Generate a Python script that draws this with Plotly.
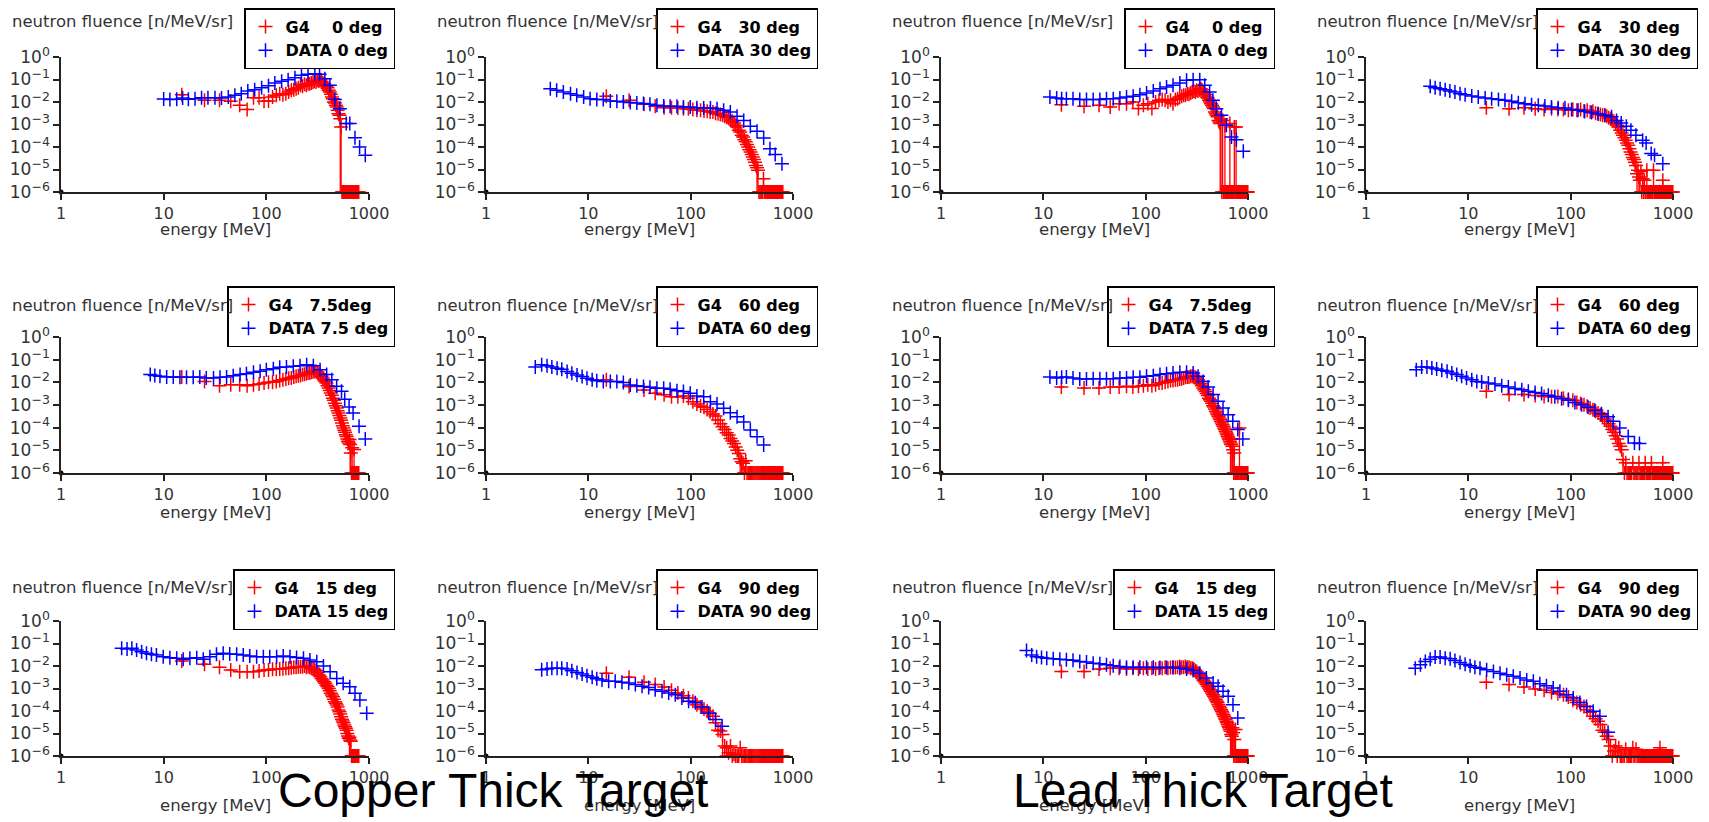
import plotly.graph_objects as go

# target page is 1709x822; the html body keeps its default 8px margin,
# so the figure is drawn 8px smaller and every pixel position is shifted by it
PAGE_W, PAGE_H = 1709, 822
OFF = 8
W, H = PAGE_W - OFF, PAGE_H - OFF
Y_FLOOR = 1e-6


def px_x(x):
    return (x - OFF) / W


def px_y(y):
    return 1 - (y - OFF) / H


# energy ticks / fluence ticks
e_ticks = [1, 10, 100, 1000]
e_tick_text = ["1", "10", "100", "1000"]
f_ticks = [1e-6, 1e-5, 1e-4, 1e-3, 1e-2, 1e-1, 1]
f_exponents = ["\u22126", "\u22125", "\u22124", "\u22123", "\u22122", "\u22121", "0"]
f_tick_text = ["10<sup><span style='font-size:12.5px'>%s</span></sup>" % s for s in f_exponents]

# G4 energy bins (MeV)
cu_g4_energy = [15, 25, 35, 45, 55, 65, 75, 85, 95, 105,
                115, 125, 135, 145, 155, 165, 175, 185, 195, 205,
                215, 225, 235, 245, 255, 265, 275, 285, 295, 305,
                315, 325, 335, 345, 355, 365, 375, 385, 395, 405,
                415, 425, 435, 445, 455, 465, 475, 485, 495, 505,
                515, 525, 535, 545, 555, 565, 575, 585, 595, 605,
                615, 625, 635, 645, 655, 665, 675, 685, 695, 705,
                715, 725, 735, 745, 755, 765, 775, 785, 795]
pb_g4_energy = [15, 25, 35, 45, 55, 65, 75, 85, 95, 105,
                115, 125, 135, 145, 155, 165, 175, 185, 195, 205,
                215, 225, 235, 245, 255, 265, 275, 285, 295, 305,
                315, 325, 335, 345, 355, 365, 375, 385, 395, 405,
                415, 425, 435, 445, 455, 465, 475, 485, 495, 505,
                515, 525, 535, 545, 555, 565, 575, 585, 595, 605,
                615, 625, 635, 645, 655, 665, 675, 685, 695, 705,
                715, 725, 735, 745, 755, 765, 775, 785, 795, 805,
                815, 825, 835, 845, 855, 865, 875, 885, 895, 905,
                915, 925, 935, 945, 955, 965, 975, 985, 995]

# ---------------- Copper ----------------
cu0_g4 = [2.1e-2, 1.2e-2, 1.2e-2, 1.07e-2, 7.1e-3, 4.7e-3, 1.56e-2, 1.56e-2, 1.07e-2, 1.1e-2,
          1.67e-2, 1.98e-2, 2.35e-2, 2.1e-2, 2.35e-2, 2.8e-2, 3.3e-2, 3.5e-2, 3.9e-2, 4.3e-2,
          5.5e-2, 5e-2, 6.1e-2, 5.5e-2, 6.5e-2, 6.5e-2, 7e-2, 7.7e-2, 8.3e-2, 7.7e-2,
          9.2e-2, 8.6e-2, 9.8e-2, 7.7e-2, 7e-2, 6.5e-2, 5.5e-2, 5e-2, 4.3e-2, 3.3e-2,
          2.8e-2, 2.2e-2, 1.67e-2, 1.4e-2, 1e-2, 9e-3, 7.1e-3, 6e-3, 4.3e-3, 3e-3,
          2.6e-3, 1.8e-3, 7.8e-4, 0, 0, 0, 0, 0, 0, 0,
          0, 0, 0, 0, 0, 0, 0, 0, 0, 0,
          0, 0, 0, 0, 0, 0, 0, 0, 0]
cu0_g4_err = [525, 535]
cu0_data_energy = [10, 11.5, 13.4, 15.3, 17.4, 20.2, 23.4, 27, 31.6, 36.6,
                   42.6, 49.4, 57, 66, 77, 90, 105, 121, 141, 163,
                   190, 220, 255, 297, 330, 372, 416, 465, 520, 600,
                   650, 730, 810, 920]
cu0_data = [1.36e-2, 1.3e-2, 1.33e-2, 1.5e-2, 1.33e-2, 1.4e-2, 1.56e-2, 1.56e-2, 1.56e-2, 1.5e-2,
            1.67e-2, 1.98e-2, 2.35e-2, 3.1e-2, 3.5e-2, 4.3e-2, 5.3e-2, 7e-2, 8.3e-2, 9.8e-2,
            0.12, 0.153, 0.17, 0.18, 0.17, 0.109, 5.5e-2, 1.3e-2, 5e-3, 1.1e-3,
            1.1e-3, 2.6e-4, 1e-4, 4.3e-5]

cu30_g4 = [1.8e-2, 1.2e-2, 7.9e-3, 6.4e-3, 5.6e-3, 5.6e-3, 5.4e-3, 5e-3, 5e-3, 4.6e-3,
           4.3e-3, 4.3e-3, 4e-3, 3.9e-3, 3.6e-3, 3.6e-3, 3.2e-3, 3e-3, 2.8e-3, 2.6e-3,
           2.3e-3, 2.1e-3, 2e-3, 1.6e-3, 1.4e-3, 1.17e-3, 9.2e-4, 7.8e-4, 5.5e-4, 4.6e-4,
           3.3e-4, 2.8e-4, 2.1e-4, 1.7e-4, 1.3e-4, 1e-4, 7.6e-5, 6e-5, 4.7e-5, 3.6e-5,
           2.8e-5, 2.1e-5, 1.5e-5, 1.2e-5, 9.2e-6, 0, 0, 0, 0, 0,
           3.9e-6, 0, 0, 0, 0, 0, 0, 0, 0, 0,
           0, 0, 0, 0, 0, 0, 0, 0, 0, 0,
           0, 0, 0, 0, 0, 0, 0, 0, 0]
cu30_g4_err = [445, 455, 515]
cu30_data_energy = [4.25, 4.9, 5.7, 6.7, 7.7, 9, 10.4, 12.1, 14, 16.4,
                    19, 22, 25.7, 29.8, 34.6, 40, 46.8, 54.5, 63, 73.5,
                    85, 99, 115, 134, 156, 181, 210, 244, 284, 330,
                    383, 445, 517, 595, 670, 780]
cu30_data = [3.9e-2, 3.3e-2, 2.8e-2, 2.35e-2, 1.98e-2, 1.67e-2, 1.4e-2, 1.3e-2, 1.3e-2, 1.1e-2,
             1.07e-2, 1e-2, 9.4e-3, 9e-3, 8.5e-3, 7.9e-3, 7.1e-3, 6.6e-3, 6.4e-3, 6.4e-3,
             6e-3, 6e-3, 5.6e-3, 5.4e-3, 5.4e-3, 5e-3, 4.3e-3, 3.6e-3, 2.3e-3, 1.5e-3,
             8.3e-4, 5e-4, 2.5e-4, 8.4e-5, 4.7e-5, 1.8e-5]

cu75_g4 = [1.7e-2, 1.1e-2, 7.1e-3, 7.9e-3, 7.9e-3, 7.1e-3, 7.9e-3, 8.5e-3, 9.4e-3, 1e-2,
           1e-2, 1.1e-2, 1.2e-2, 1.3e-2, 1.4e-2, 1.5e-2, 1.55e-2, 1.7e-2, 1.84e-2, 1.97e-2,
           2e-2, 2.2e-2, 2.25e-2, 2.4e-2, 2.6e-2, 2.6e-2, 2.8e-2, 2.9e-2, 3e-2, 3.1e-2,
           2.8e-2, 2.4e-2, 2.2e-2, 1.84e-2, 1.55e-2, 1.3e-2, 1.1e-2, 9.4e-3, 7.1e-3, 5.6e-3,
           4.4e-3, 3.4e-3, 2.7e-3, 2e-3, 1.6e-3, 1.2e-3, 9.3e-4, 7.4e-4, 5.6e-4, 4.4e-4,
           3.4e-4, 2.7e-4, 2.1e-4, 1.6e-4, 1.2e-4, 9.7e-5, 7.6e-5, 6.2e-5, 4.9e-5, 4.1e-5,
           3.2e-5, 2.5e-5, 2.1e-5, 3e-5, 1.8e-5, 7.6e-6, 0, 1.3e-5, 0, 0,
           1.1e-5, 0, 0, 0, 0, 0, 0, 0, 0]
cu75_g4_err = [655, 665, 685, 715]
cu75_data_energy = [7.4, 8.2, 9.2, 10.7, 12.4, 14.4, 16.7, 19.4, 22.5, 26,
                    30.6, 35.4, 41, 47.6, 55.5, 64, 75, 87, 100, 117,
                    135, 157, 183, 213, 247, 287, 334, 387, 434, 484,
                    540, 580, 640, 700, 800, 920]
cu75_data = [2.2e-2, 2e-2, 1.84e-2, 1.7e-2, 1.7e-2, 1.66e-2, 1.66e-2, 1.66e-2, 1.7e-2, 1.55e-2,
             1.55e-2, 1.66e-2, 1.7e-2, 1.97e-2, 2.2e-2, 2.4e-2, 2.8e-2, 3.1e-2, 3.6e-2, 4e-2,
             4.6e-2, 4.7e-2, 5.1e-2, 5.4e-2, 6e-2, 5.4e-2, 3.6e-2, 2.2e-2, 1.3e-2, 6.7e-3,
             4e-3, 1.8e-3, 8.2e-4, 4.4e-4, 1.15e-4, 3.2e-5]

cu60_g4 = [1.3e-2, 6.5e-3, 4.6e-3, 3.3e-3, 2.8e-3, 2.3e-3, 2.3e-3, 2.5e-3, 2e-3, 1.4e-3,
           1.1e-3, 9e-4, 7.9e-4, 6.4e-4, 5.1e-4, 4e-4, 3.3e-4, 2.2e-4, 1.5e-4, 1.1e-4,
           8.4e-5, 6e-5, 4.7e-5, 3.3e-5, 2.6e-5, 2e-5, 1.4e-5, 1e-5, 7.2e-6, 4.3e-6,
           3.1e-6, 2.7e-6, 0, 3.5e-6, 0, 0, 0, 0, 0, 0,
           0, 0, 0, 0, 0, 0, 0, 0, 0, 0,
           0, 0, 0, 0, 0, 0, 0, 0, 0, 0,
           0, 0, 0, 0, 0, 0, 0, 0, 0, 0,
           0, 0, 0, 0, 0, 0, 0, 0, 0]
cu60_g4_err = [305, 315, 325, 345]
cu60_data_energy = [3.03, 3.5, 3.95, 4.4, 4.95, 5.5, 6.2, 6.9, 7.75, 8.7,
                    9.7, 10.9, 12.1, 14, 16.4, 19, 22, 25.7, 29.8, 34.6,
                    40, 46.8, 54.5, 63, 73.5, 85, 99, 115, 134, 156,
                    181, 210, 244, 284, 330, 383, 445, 517]
cu60_data = [4.7e-2, 5.9e-2, 5.4e-2, 4.7e-2, 4.2e-2, 3.8e-2, 3e-2, 2.5e-2, 2.1e-2, 1.8e-2,
             1.5e-2, 1.3e-2, 1.16e-2, 1.08e-2, 1.08e-2, 1.08e-2, 9.8e-3, 7.7e-3, 7e-3, 6.5e-3,
             6.1e-3, 5.5e-3, 5.5e-3, 5e-3, 4.3e-3, 3.9e-3, 3.3e-3, 2.5e-3, 2.3e-3, 1.4e-3,
             1.1e-3, 7.1e-4, 4.6e-4, 3e-4, 1.8e-4, 7.8e-5, 4e-5, 1.7e-5]

cu15_g4 = [1.67e-2, 1.2e-2, 8.7e-3, 6.6e-3, 5.6e-3, 5.6e-3, 5.6e-3, 6e-3, 6.6e-3, 6.6e-3,
           7.1e-3, 7.1e-3, 7.4e-3, 7.6e-3, 7.9e-3, 7.9e-3, 8.4e-3, 8.7e-3, 8.7e-3, 9.3e-3,
           9.3e-3, 9.3e-3, 1e-2, 8.7e-3, 9.3e-3, 8.7e-3, 7.9e-3, 7.9e-3, 7.1e-3, 6.2e-3,
           5.1e-3, 4e-3, 3.4e-3, 2.8e-3, 2.4e-3, 2e-3, 1.7e-3, 1.4e-3, 1.2e-3, 1e-3,
           8e-4, 6.1e-4, 5.1e-4, 4.3e-4, 3.3e-4, 2.6e-4, 2.2e-4, 1.85e-4, 1.5e-4, 1.1e-4,
           9.3e-5, 7.4e-5, 5.6e-5, 4.3e-5, 3.6e-5, 3e-5, 2.4e-5, 2e-5, 1.7e-5, 1.4e-5,
           1e-5, 7.7e-6, 6.1e-6, 6.9e-6, 5.1e-6, 4.5e-6, 0, 0, 0, 0,
           0, 0, 0, 0, 0, 0, 0, 0, 0]
cu15_g4_err = [645, 655, 665]
cu15_data_energy = [3.9, 4.4, 4.9, 5.45, 6.1, 6.8, 7.6, 8.5, 9.9, 11.5,
                    13.4, 15.5, 18, 21, 24.3, 28.2, 32.7, 38, 44, 51.4,
                    59.6, 69, 80.5, 93.5, 108, 126, 146, 170, 197, 230,
                    266, 310, 360, 418, 485, 560, 650, 730, 815, 950]
cu15_data = [6.1e-2, 5.7e-2, 6.1e-2, 5.1e-2, 4.3e-2, 3.7e-2, 3.3e-2, 3.1e-2, 2.6e-2, 2.35e-2,
             2.2e-2, 2e-2, 2.2e-2, 2.35e-2, 2e-2, 2.6e-2, 3.3e-2, 3.7e-2, 3.4e-2, 3.3e-2,
             3.1e-2, 2.8e-2, 2.6e-2, 2.6e-2, 2.6e-2, 2.6e-2, 2.8e-2, 2.6e-2, 2.4e-2, 2.2e-2,
             1.85e-2, 1.56e-2, 1e-2, 5.6e-3, 2.8e-3, 1.7e-3, 1.2e-3, 6.1e-4, 3.1e-4, 7.9e-5]

cu90_g4 = [4.8e-3, 3.2e-3, 1.9e-3, 1.5e-3, 1.16e-3, 8.3e-4, 6.3e-4, 4.8e-4, 3.8e-4, 2.7e-4,
           1.9e-4, 1.5e-4, 1.23e-4, 9.7e-5, 7.7e-5, 5.8e-5, 3e-5, 1.4e-5, 1.3e-5, 9e-6,
           2.8e-6, 2.3e-6, 1.4e-6, 2.8e-6, 0, 1.2e-6, 0, 0, 0, 2.3e-6,
           0, 0, 0, 0, 0, 0, 0, 0, 0, 0,
           0, 0, 0, 0, 0, 0, 0, 0, 0, 0,
           0, 0, 0, 0, 0, 0, 0, 0, 0, 0,
           0, 0, 0, 0, 0, 0, 0, 0, 0, 0,
           0, 0, 0, 0, 0, 0, 0, 0, 0]
cu90_g4_err = [205, 215, 225, 245]
cu90_data_energy = [3.5, 3.95, 4.4, 4.95, 5.5, 6.2, 6.9, 7.75, 8.7, 9.7,
                    10.9, 12.1, 13.6, 15.8, 18.3, 21.3, 24.8, 28.8, 33.5, 38.9,
                    45, 52.5, 61, 70.8, 82, 95.5, 111, 129, 150, 175,
                    203]
cu90_data = [6.8e-3, 7.3e-3, 8e-3, 8e-3, 8e-3, 7.3e-3, 6.1e-3, 5.2e-3, 4.4e-3, 3.7e-3,
             3.2e-3, 2.7e-3, 2.4e-3, 2.1e-3, 2.1e-3, 1.9e-3, 1.75e-3, 1.5e-3, 1.25e-3, 1.1e-3,
             8.8e-4, 7.5e-4, 6.3e-4, 5.3e-4, 3.8e-4, 2.7e-4, 2.3e-4, 1.5e-4, 8.2e-5, 4.2e-5,
             2.1e-5]

# ---------------- Lead ----------------
pb0_g4 = [7.6e-3, 6.4e-3, 7.1e-3, 6e-3, 8.4e-3, 8.4e-3, 1e-2, 5.1e-3, 7.1e-3, 8.4e-3,
          5.1e-3, 1e-2, 1.2e-2, 1.3e-2, 1.2e-2, 1e-2, 1.2e-2, 8.4e-3, 1.3e-2, 1.4e-2,
          1.67e-2, 1.8e-2, 1.98e-2, 1.98e-2, 2.35e-2, 2.2e-2, 2.5e-2, 2.8e-2, 3.1e-2, 2.8e-2,
          3.3e-2, 3.1e-2, 3.5e-2, 3.9e-2, 3.5e-2, 2.8e-2, 2.5e-2, 2.1e-2, 1.67e-2, 1.5e-2,
          1.2e-2, 1e-2, 8.4e-3, 7.1e-3, 6e-3, 5.1e-3, 3.6e-3, 3e-3, 2.6e-3, 2.2e-3,
          1.5e-3, 1.3e-3, 1.1e-3, 1.8e-3, 0, 1.5e-3, 0, 0, 9.2e-4, 0,
          0, 0, 0, 0, 0, 1.1e-3, 0, 0, 0, 0,
          0, 0, 7.7e-4, 0, 0, 7.7e-4, 0, 0, 0, 0,
          0, 0, 0, 0, 0, 0, 0, 0, 0, 0,
          0, 0, 0, 0, 0, 0, 0, 0, 0]
pb0_g4_err = [535, 545, 565, 595, 665, 735, 765]
pb0_data_energy = [11.6, 13.5, 15.1, 16.8, 19.5, 22.7, 26.4, 30.7, 35.7, 41.4,
                   48.2, 56, 65, 75.5, 87.8, 102, 118.7, 138, 160, 185,
                   216, 251, 291, 338, 378, 422, 454, 490, 550, 615,
                   690, 770, 900]
pb0_data = [1.67e-2, 1.5e-2, 1.4e-2, 1.4e-2, 1.4e-2, 1.3e-2, 1.3e-2, 1.3e-2, 1.3e-2, 1.4e-2,
            1.4e-2, 1.5e-2, 1.67e-2, 1.8e-2, 2.1e-2, 2.5e-2, 3.1e-2, 3.9e-2, 4.6e-2, 5.5e-2,
            7e-2, 9.2e-2, 9.8e-2, 9.8e-2, 5.5e-2, 2.8e-2, 1.2e-2, 5e-3, 2.6e-3, 9.2e-4,
            2.8e-4, 2.1e-4, 6.4e-5]

pb30_g4 = [5.6e-3, 5e-3, 5.6e-3, 5e-3, 4.6e-3, 5e-3, 4.6e-3, 4.7e-3, 4.3e-3, 4.6e-3,
           4.3e-3, 4.6e-3, 4e-3, 4.3e-3, 3.6e-3, 3.9e-3, 3.2e-3, 3e-3, 2.8e-3, 2.6e-3,
           2.6e-3, 2.3e-3, 2e-3, 1.8e-3, 1.5e-3, 1.4e-3, 1.17e-3, 9.2e-4, 7.8e-4, 5.5e-4,
           4.2e-4, 3.3e-4, 2.6e-4, 2e-4, 1.5e-4, 1.2e-4, 8.4e-5, 6e-5, 4.7e-5, 3.4e-5,
           2.8e-5, 2.1e-5, 1.5e-5, 6.5e-6, 9.2e-6, 4.6e-6, 3.3e-6, 8.1e-6, 0, 3.9e-6,
           0, 3.3e-6, 0, 0, 9.2e-6, 0, 0, 0, 0, 0,
           0, 0, 0, 9.2e-6, 0, 0, 0, 0, 0, 0,
           0, 0, 0, 0, 0, 0, 0, 0, 3.3e-6, 0,
           0, 0, 0, 0, 0, 0, 0, 0, 0, 0,
           0, 0, 0, 0, 0, 0, 0, 0, 0]
pb30_g4_err = [445, 465, 475, 505, 525, 555, 645, 795]
pb30_data_energy = [4.24, 4.74, 5.3, 5.94, 6.6, 7.4, 8.3, 9.3, 10.8, 12.5,
                    14.6, 16.9, 19.7, 22.8, 26.5, 30.8, 35.8, 41.5, 48.3, 56,
                    65, 75.6, 88, 102, 118, 137, 160, 185, 216, 251,
                    281, 312, 350, 388, 434, 505, 546, 612, 660, 795]
pb30_data = [5e-2, 4.3e-2, 3.9e-2, 3.5e-2, 3.1e-2, 2.8e-2, 2.35e-2, 2.1e-2, 1.85e-2, 1.67e-2,
             1.5e-2, 1.4e-2, 1.3e-2, 1.2e-2, 1.07e-2, 9.3e-3, 8.4e-3, 7.6e-3, 7.1e-3, 6.6e-3,
             6e-3, 5.6e-3, 5.4e-3, 4.7e-3, 4.3e-3, 3.8e-3, 3.4e-3, 3e-3, 2.6e-3, 2.2e-3,
             1.5e-3, 1.17e-3, 8.3e-4, 5.5e-4, 3.3e-4, 2e-4, 1.5e-4, 5.1e-5, 4.3e-5, 1.8e-5]

pb75_g4 = [6.2e-3, 5.6e-3, 5.6e-3, 6.2e-3, 6.2e-3, 6.7e-3, 6.2e-3, 6.7e-3, 7.1e-3, 7.9e-3,
           7.1e-3, 7.9e-3, 9.4e-3, 9.4e-3, 1e-2, 1.1e-2, 1.2e-2, 1.2e-2, 1.3e-2, 1.3e-2,
           1.4e-2, 1.45e-2, 1.55e-2, 1.66e-2, 1.7e-2, 1.7e-2, 1.84e-2, 1.84e-2, 1.7e-2, 1.66e-2,
           1.55e-2, 1.3e-2, 1.1e-2, 8.7e-3, 7.1e-3, 5.6e-3, 4.7e-3, 3.9e-3, 3.2e-3, 2.6e-3,
           2e-3, 1.7e-3, 1.45e-3, 1.2e-3, 9.3e-4, 8.2e-4, 6.7e-4, 5.3e-4, 4.4e-4, 3.7e-4,
           3.2e-4, 2.7e-4, 2.3e-4, 1.9e-4, 1.6e-4, 1.35e-4, 1.15e-4, 9.7e-5, 8.2e-5, 6.9e-5,
           5.8e-5, 4.9e-5, 4.1e-5, 3.5e-5, 3e-5, 2.5e-5, 2.1e-5, 1.8e-5, 3.2e-5, 1.5e-5,
           1.07e-5, 0, 7.6e-6, 0, 0, 0, 0, 0, 0, 0,
           0, 9.7e-5, 0, 0, 0, 0, 0, 0, 0, 0,
           0, 0, 0, 0, 0, 0, 0, 0, 0]
pb75_g4_err = [675, 695, 705, 715, 735, 825]
pb75_data_energy = [11.6, 13.5, 15.1, 16.8, 19.5, 22.7, 26.4, 30.7, 35.7, 41.4,
                    48.2, 56, 65, 75.5, 87.8, 102, 118.7, 138, 160, 185,
                    216, 251, 291, 325, 364, 408, 456, 510, 570, 640,
                    710, 795, 890]
pb75_data = [1.7e-2, 1.55e-2, 1.66e-2, 1.7e-2, 1.55e-2, 1.4e-2, 1.4e-2, 1.45e-2, 1.45e-2, 1.45e-2,
             1.45e-2, 1.55e-2, 1.55e-2, 1.66e-2, 1.66e-2, 1.84e-2, 1.97e-2, 2.2e-2, 2.4e-2, 2.6e-2,
             2.8e-2, 2.8e-2, 2.6e-2, 1.84e-2, 1.1e-2, 6.2e-3, 2.9e-3, 1.45e-3, 7.4e-4, 3.7e-4,
             1.9e-4, 8.2e-5, 3.2e-5]

pb60_g4 = [4e-3, 2.9e-3, 2.9e-3, 2.6e-3, 2.4e-3, 2.3e-3, 2.4e-3, 2e-3, 1.8e-3, 1.6e-3,
           1.3e-3, 1.15e-3, 1.03e-3, 8.7e-4, 7.4e-4, 6.2e-4, 5.3e-4, 4.4e-4, 3.7e-4, 3.2e-4,
           2.4e-4, 1.9e-4, 1.5e-4, 1.15e-4, 8.2e-5, 6.2e-5, 4.4e-5, 3.2e-5, 2e-5, 1.5e-5,
           1.07e-5, 3.9e-6, 0, 2.8e-6, 0, 0, 0, 0, 0, 2.8e-6,
           0, 0, 0, 0, 0, 2.8e-6, 0, 0, 0, 0,
           0, 0, 2.8e-6, 0, 0, 0, 0, 0, 0, 0,
           2.8e-6, 0, 0, 0, 0, 0, 0, 0, 0, 0,
           0, 0, 0, 0, 0, 0, 0, 0, 2.8e-6, 0,
           0, 0, 0, 0, 0, 0, 0, 0, 0, 0,
           0, 0, 0, 0, 0, 0, 0, 0, 0]
pb60_g4_err = [325, 345]
pb60_data_energy = [3.1, 3.5, 3.94, 4.4, 4.9, 5.5, 6.2, 6.9, 7.7, 8.6,
                    9.6, 10.8, 12.1, 13.5, 15.7, 18.2, 21.2, 24.6, 28.6, 33.3,
                    38.6, 44.9, 52, 60.5, 70, 81.5, 95, 110, 128, 148,
                    172, 200, 232, 260, 302, 365, 420, 470]
pb60_data = [3.6e-2, 4.7e-2, 4.7e-2, 4.3e-2, 3.9e-2, 3.4e-2, 3.1e-2, 2.6e-2, 2.2e-2, 1.84e-2,
             1.55e-2, 1.3e-2, 1.1e-2, 1.03e-2, 9.4e-3, 8.4e-3, 7.1e-3, 6.2e-3, 5.3e-3, 4.7e-3,
             4e-3, 3.6e-3, 3.2e-3, 2.7e-3, 2.3e-3, 1.9e-3, 1.6e-3, 1.3e-3, 1.03e-3, 7.9e-4,
             5.8e-4, 4.1e-4, 3e-4, 1.9e-4, 9.7e-5, 4.1e-5, 2.1e-5, 2e-5]

pb15_g4 = [5.7e-3, 5.7e-3, 7.3e-3, 8e-3, 8e-3, 7.3e-3, 8e-3, 7.3e-3, 8e-3, 7.3e-3,
           8e-3, 7.3e-3, 8e-3, 8e-3, 8.9e-3, 8e-3, 8.6e-3, 8.9e-3, 8.6e-3, 8.9e-3,
           9.5e-3, 8.9e-3, 8.9e-3, 9.5e-3, 8.9e-3, 8.9e-3, 8e-3, 8e-3, 7.3e-3, 6.3e-3,
           5.7e-3, 4.8e-3, 4.1e-3, 3.5e-3, 2.9e-3, 2.4e-3, 2.1e-3, 1.75e-3, 1.5e-3, 1.25e-3,
           1.05e-3, 8.8e-4, 7.5e-4, 6.3e-4, 5.3e-4, 4.5e-4, 3.8e-4, 3.2e-4, 2.7e-4, 2.3e-4,
           1.9e-4, 1.6e-4, 1.37e-4, 1.15e-4, 9.7e-5, 8.2e-5, 6.9e-5, 5.8e-5, 4.9e-5, 4.2e-5,
           3.5e-5, 3e-5, 2.5e-5, 2.1e-5, 1.8e-5, 1.5e-5, 1.27e-5, 9e-6, 7.6e-6, 1.8e-5,
           1.07e-5, 0, 5.4e-6, 0, 1.5e-5, 0, 0, 0, 0, 0,
           0, 0, 0, 0, 0, 0, 0, 0, 0, 0,
           0, 0, 0, 0, 0, 0, 0, 0, 0]
pb15_g4_err = [675, 685, 695, 705, 715, 735, 755]
pb15_data_energy = [6.85, 7.7, 8.6, 9.6, 10.8, 12.5, 14.5, 16.8, 19.5, 22.7,
                    26.4, 30.7, 35.7, 41.4, 48.2, 56, 65, 75.5, 87.8, 102,
                    118.7, 138, 160, 185, 216, 251, 291, 338, 392, 456,
                    510, 570, 640, 713, 795]
pb15_data = [4.9e-2, 3.1e-2, 2.6e-2, 2.4e-2, 2.2e-2, 2.1e-2, 2e-2, 1.9e-2, 1.8e-2, 1.6e-2,
             1.5e-2, 1.34e-2, 1.25e-2, 1.13e-2, 1.03e-2, 9.5e-3, 8.9e-3, 8.9e-3, 8.9e-3, 8.9e-3,
             8.9e-3, 8.6e-3, 8.6e-3, 8.6e-3, 8e-3, 7.3e-3, 6.3e-3, 4.8e-3, 2.9e-3, 1.75e-3,
             1.25e-3, 7.5e-4, 4.5e-4, 1.9e-4, 4.9e-5]

pb90_g4 = [1.9e-3, 1.5e-3, 1.16e-3, 9.5e-4, 8.3e-4, 6.7e-4, 5.9e-4, 5.3e-4, 4.2e-4, 3e-4,
           2.4e-4, 1.9e-4, 1.6e-4, 1.15e-4, 8.8e-5, 5.8e-5, 4.5e-5, 3.5e-5, 2.5e-5, 1.4e-5,
           1.15e-5, 7.6e-6, 5.4e-6, 2.8e-6, 0, 1.65e-6, 2.8e-6, 0, 2.3e-6, 0,
           0, 0, 0, 2e-6, 0, 0, 0, 0, 0, 2.3e-6,
           0, 0, 2e-6, 0, 0, 0, 0, 0, 0, 0,
           0, 0, 0, 0, 0, 0, 0, 0, 0, 0,
           0, 0, 0, 0, 0, 0, 0, 0, 0, 0,
           0, 0, 0, 2.3e-6, 0, 0, 0, 0, 0, 0,
           0, 0, 0, 0, 0, 0, 0, 0, 0, 0,
           0, 0, 0, 0, 0, 0, 0, 0, 0]
pb90_g4_err = [235, 245, 265, 275]
pb90_data_energy = [3.03, 3.4, 3.8, 4.24, 4.74, 5.3, 5.94, 6.64, 7.4, 8.3,
                    9.3, 10.4, 11.6, 13, 15.1, 17.6, 20.4, 23.7, 27.5, 32,
                    37.2, 43.2, 50, 58, 67.5, 78.5, 91, 106, 123, 143,
                    166, 193, 232]
pb90_data = [8e-3, 1.13e-2, 1.6e-2, 2e-2, 2.5e-2, 2.5e-2, 2.2e-2, 2.1e-2, 1.76e-2, 1.43e-2,
             1.2e-2, 1.02e-2, 8.9e-3, 8e-3, 6.8e-3, 5.7e-3, 4.8e-3, 4.1e-3, 3.5e-3, 2.9e-3,
             2.4e-3, 2.1e-3, 1.63e-3, 1.33e-3, 1.05e-3, 7.5e-4, 5.3e-4, 3.8e-4, 2.4e-4, 1.6e-4,
             9.7e-5, 5.8e-5, 1.15e-5]

# panels in reading order (row by row)
panels = [
    ("G4\u00a0\u00a0\u00a0\u00a00 deg", "DATA 0 deg", cu_g4_energy, cu0_g4, cu0_g4_err, cu0_data_energy, cu0_data),
    ("G4\u00a0\u00a0\u00a030 deg", "DATA 30 deg", cu_g4_energy, cu30_g4, cu30_g4_err, cu30_data_energy, cu30_data),
    ("G4\u00a0\u00a0\u00a0\u00a00 deg", "DATA 0 deg", pb_g4_energy, pb0_g4, pb0_g4_err, pb0_data_energy, pb0_data),
    ("G4\u00a0\u00a0\u00a030 deg", "DATA 30 deg", pb_g4_energy, pb30_g4, pb30_g4_err, pb30_data_energy, pb30_data),
    ("G4\u00a0\u00a0\u00a07.5deg", "DATA 7.5 deg", cu_g4_energy, cu75_g4, cu75_g4_err, cu75_data_energy, cu75_data),
    ("G4\u00a0\u00a0\u00a060 deg", "DATA 60 deg", cu_g4_energy, cu60_g4, cu60_g4_err, cu60_data_energy, cu60_data),
    ("G4\u00a0\u00a0\u00a07.5deg", "DATA 7.5 deg", pb_g4_energy, pb75_g4, pb75_g4_err, pb75_data_energy, pb75_data),
    ("G4\u00a0\u00a0\u00a060 deg", "DATA 60 deg", pb_g4_energy, pb60_g4, pb60_g4_err, pb60_data_energy, pb60_data),
    ("G4\u00a0\u00a0\u00a015 deg", "DATA 15 deg", cu_g4_energy, cu15_g4, cu15_g4_err, cu15_data_energy, cu15_data),
    ("G4\u00a0\u00a0\u00a090 deg", "DATA 90 deg", cu_g4_energy, cu90_g4, cu90_g4_err, cu90_data_energy, cu90_data),
    ("G4\u00a0\u00a0\u00a015 deg", "DATA 15 deg", pb_g4_energy, pb15_g4, pb15_g4_err, pb15_data_energy, pb15_data),
    ("G4\u00a0\u00a0\u00a090 deg", "DATA 90 deg", pb_g4_energy, pb90_g4, pb90_g4_err, pb90_data_energy, pb90_data),
]

# panel geometry in page pixels
col_left = [61, 486, 941, 1366]
col_right = [369, 793, 1248, 1673]
row_top = [57, 337, 621]
row_bottom = [192, 473, 756]
ylabel_y = [22, 305, 587]
xlabel_y = [229, 512, 805]
legend_top = [8, 286, 569]
legend_right = [395, 818, 1275, 1698]

FONT = "DejaVu Sans"
TXT = "#333333"

fig = go.Figure()
layout = {}
annotations = []

for k, (g4_name, data_name, g4_e, g4_v, g4_err, d_e, d_v) in enumerate(panels, start=1):
    r, c = divmod(k - 1, 4)
    sfx = "" if k == 1 else str(k)
    xref, yref = "x" + sfx, "y" + sfx
    leg = "legend" + sfx

    g4_y = [v if v > 0 else Y_FLOOR for v in g4_v]
    err_lo = [y - Y_FLOOR if e in g4_err else None for e, y in zip(g4_e, g4_y)]
    err_hi = [0 if e in g4_err else None for e in g4_e]

    fig.add_trace(go.Scatter(
        x=g4_e, y=g4_y, mode="markers", name=g4_name, xaxis=xref, yaxis=yref, legend=leg,
        marker=dict(symbol="cross-thin", size=10, line=dict(width=1.5, color="#ff0000")),
        error_y=dict(type="data", symmetric=False, array=err_hi, arrayminus=err_lo,
                     color="#ff0000", thickness=1.3, width=3),
        cliponaxis=False, hoverinfo="x+y"))
    fig.add_trace(go.Scatter(
        x=d_e, y=d_v, mode="markers", name=data_name, xaxis=xref, yaxis=yref, legend=leg,
        marker=dict(symbol="cross-thin", size=10, line=dict(width=1.5, color="#0000ff")),
        cliponaxis=False, hoverinfo="x+y"))
    # origin dot of the axes
    fig.add_trace(go.Scatter(
        x=[e_ticks[0]], y=[f_ticks[0]], mode="markers", xaxis=xref, yaxis=yref, showlegend=False,
        marker=dict(symbol="circle", size=5, color="black"), cliponaxis=False, hoverinfo="skip"))

    dom_x = [px_x(col_left[c]), px_x(col_right[c])]
    dom_y = [px_y(row_bottom[r]), px_y(row_top[r])]
    layout["xaxis" + sfx] = dict(
        type="log", range=[0, 3], domain=dom_x, anchor=yref,
        tickmode="array", tickvals=e_ticks, ticktext=e_tick_text,
        ticks="outside", ticklen=6, tickwidth=1.5, tickcolor="#222",
        showline=True, linecolor="#222", linewidth=1.5,
        showgrid=False, zeroline=False, tickfont=dict(family=FONT, size=16, color=TXT))
    layout["yaxis" + sfx] = dict(
        type="log", range=[-6, 0], domain=dom_y, anchor=xref,
        tickmode="array", tickvals=f_ticks, ticktext=f_tick_text,
        ticks="outside", ticklen=6, tickwidth=1.5, tickcolor="#222",
        showline=True, linecolor="#222", linewidth=1.5,
        showgrid=False, zeroline=False, tickfont=dict(family=FONT, size=17, color=TXT))
    # overlay axes carrying the inner half of the crossing ticks
    o = str(k + 12)
    layout["xaxis" + o] = dict(
        type="log", range=[0, 3], overlaying=xref, anchor=yref, side="bottom",
        tickmode="array", tickvals=e_ticks, ticks="inside", ticklen=6, tickwidth=1.5,
        tickcolor="#222", showticklabels=False, showline=False, showgrid=False, zeroline=False)
    layout["yaxis" + o] = dict(
        type="log", range=[-6, 0], overlaying=yref, anchor=xref, side="left",
        tickmode="array", tickvals=f_ticks, ticks="inside", ticklen=6, tickwidth=1.5,
        tickcolor="#222", showticklabels=False, showline=False, showgrid=False, zeroline=False)

    layout[leg] = dict(
        x=px_x(legend_right[c]), y=px_y(legend_top[r]), xanchor="right", yanchor="top",
        bgcolor="white", bordercolor="black", borderwidth=1.5, traceorder="normal",
        font=dict(family=FONT, size=16, color="black", weight="bold"), itemwidth=30)

    annotations.append(dict(
        text="neutron fluence [n/MeV/sr]", x=px_x(col_left[c] - 51), y=px_y(ylabel_y[r]),
        xref="paper", yref="paper", xanchor="left", yanchor="middle", showarrow=False,
        font=dict(family=FONT, size=16.5, color=TXT)))
    annotations.append(dict(
        text="energy [MeV]", x=px_x((col_left[c] + col_right[c]) / 2), y=px_y(xlabel_y[r]),
        xref="paper", yref="paper", xanchor="center", yanchor="middle", showarrow=False,
        font=dict(family=FONT, size=16.5, color=TXT)))

annotations.append(dict(text="Copper Thick Target", x=px_x(493), y=px_y(790), xref="paper", yref="paper",
                        xanchor="center", yanchor="middle", showarrow=False,
                        font=dict(family="Liberation Sans", size=48, color="black")))
annotations.append(dict(text="Lead Thick Target", x=px_x(1203), y=px_y(790), xref="paper", yref="paper",
                        xanchor="center", yanchor="middle", showarrow=False,
                        font=dict(family="Liberation Sans", size=48, color="black")))

fig.update_layout(**layout)
fig.update_layout(
    width=W, height=H, margin=dict(l=0, r=0, t=0, b=0, autoexpand=False),
    paper_bgcolor="white", plot_bgcolor="rgba(0,0,0,0)",
    showlegend=True, annotations=annotations,
    font=dict(family=FONT, color=TXT))

fig.write_html("out.html")
